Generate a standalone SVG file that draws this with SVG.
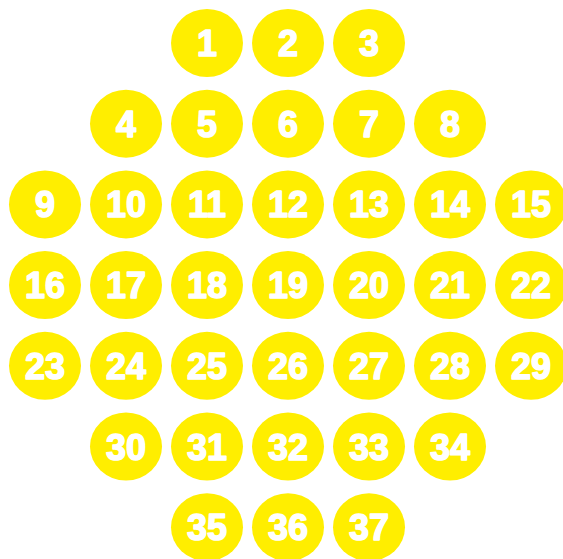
<svg xmlns="http://www.w3.org/2000/svg" width="563" height="559" viewBox="0 0 563 559">
<style>
.n ellipse{fill:#FFEE00}
.n text{fill:#fff;font-family:"Liberation Sans",Arial,sans-serif;font-weight:bold;font-size:36px;text-anchor:middle;stroke:#fff;stroke-width:1.5;stroke-linejoin:round}
</style>
<rect width="563" height="559" fill="#fff"/>
<g id="n1" class="n"><ellipse cx="207" cy="43" rx="36" ry="34"/><text x="207" y="56">1</text></g>
<g id="n2" class="n"><ellipse cx="288" cy="43" rx="36" ry="34"/><text x="288" y="56">2</text></g>
<g id="n3" class="n"><ellipse cx="369" cy="43" rx="36" ry="34"/><text x="369" y="56">3</text></g>
<g id="n4" class="n"><ellipse cx="126" cy="123.7" rx="36" ry="34"/><text x="126" y="136.7">4</text></g>
<g id="n5" class="n"><ellipse cx="207" cy="123.7" rx="36" ry="34"/><text x="207" y="136.7">5</text></g>
<g id="n6" class="n"><ellipse cx="288" cy="123.7" rx="36" ry="34"/><text x="288" y="136.7">6</text></g>
<g id="n7" class="n"><ellipse cx="369" cy="123.7" rx="36" ry="34"/><text x="369" y="136.7">7</text></g>
<g id="n8" class="n"><ellipse cx="450" cy="123.7" rx="36" ry="34"/><text x="450" y="136.7">8</text></g>
<g id="n9" class="n"><ellipse cx="45" cy="204.4" rx="36" ry="34"/><text x="45" y="217.4">9</text></g>
<g id="n10" class="n"><ellipse cx="126" cy="204.4" rx="36" ry="34"/><text x="126" y="217.4">10</text></g>
<g id="n11" class="n"><ellipse cx="207" cy="204.4" rx="36" ry="34"/><text x="207" y="217.4">11</text></g>
<g id="n12" class="n"><ellipse cx="288" cy="204.4" rx="36" ry="34"/><text x="288" y="217.4">12</text></g>
<g id="n13" class="n"><ellipse cx="369" cy="204.4" rx="36" ry="34"/><text x="369" y="217.4">13</text></g>
<g id="n14" class="n"><ellipse cx="450" cy="204.4" rx="36" ry="34"/><text x="450" y="217.4">14</text></g>
<g id="n15" class="n"><ellipse cx="531" cy="204.4" rx="36" ry="34"/><text x="531" y="217.4">15</text></g>
<g id="n16" class="n"><ellipse cx="45" cy="285" rx="36" ry="34"/><text x="45" y="298">16</text></g>
<g id="n17" class="n"><ellipse cx="126" cy="285" rx="36" ry="34"/><text x="126" y="298">17</text></g>
<g id="n18" class="n"><ellipse cx="207" cy="285" rx="36" ry="34"/><text x="207" y="298">18</text></g>
<g id="n19" class="n"><ellipse cx="288" cy="285" rx="36" ry="34"/><text x="288" y="298">19</text></g>
<g id="n20" class="n"><ellipse cx="369" cy="285" rx="36" ry="34"/><text x="369" y="298">20</text></g>
<g id="n21" class="n"><ellipse cx="450" cy="285" rx="36" ry="34"/><text x="450" y="298">21</text></g>
<g id="n22" class="n"><ellipse cx="531" cy="285" rx="36" ry="34"/><text x="531" y="298">22</text></g>
<g id="n23" class="n"><ellipse cx="45" cy="365.8" rx="36" ry="34"/><text x="45" y="378.8">23</text></g>
<g id="n24" class="n"><ellipse cx="126" cy="365.8" rx="36" ry="34"/><text x="126" y="378.8">24</text></g>
<g id="n25" class="n"><ellipse cx="207" cy="365.8" rx="36" ry="34"/><text x="207" y="378.8">25</text></g>
<g id="n26" class="n"><ellipse cx="288" cy="365.8" rx="36" ry="34"/><text x="288" y="378.8">26</text></g>
<g id="n27" class="n"><ellipse cx="369" cy="365.8" rx="36" ry="34"/><text x="369" y="378.8">27</text></g>
<g id="n28" class="n"><ellipse cx="450" cy="365.8" rx="36" ry="34"/><text x="450" y="378.8">28</text></g>
<g id="n29" class="n"><ellipse cx="531" cy="365.8" rx="36" ry="34"/><text x="531" y="378.8">29</text></g>
<g id="n30" class="n"><ellipse cx="126" cy="446.5" rx="36" ry="34"/><text x="126" y="459.5">30</text></g>
<g id="n31" class="n"><ellipse cx="207" cy="446.5" rx="36" ry="34"/><text x="207" y="459.5">31</text></g>
<g id="n32" class="n"><ellipse cx="288" cy="446.5" rx="36" ry="34"/><text x="288" y="459.5">32</text></g>
<g id="n33" class="n"><ellipse cx="369" cy="446.5" rx="36" ry="34"/><text x="369" y="459.5">33</text></g>
<g id="n34" class="n"><ellipse cx="450" cy="446.5" rx="36" ry="34"/><text x="450" y="459.5">34</text></g>
<g id="n35" class="n"><ellipse cx="207" cy="527.2" rx="36" ry="34"/><text x="207" y="540.2">35</text></g>
<g id="n36" class="n"><ellipse cx="288" cy="527.2" rx="36" ry="34"/><text x="288" y="540.2">36</text></g>
<g id="n37" class="n"><ellipse cx="369" cy="527.2" rx="36" ry="34"/><text x="369" y="540.2">37</text></g>
<g id="connectors"></g>
</svg>
